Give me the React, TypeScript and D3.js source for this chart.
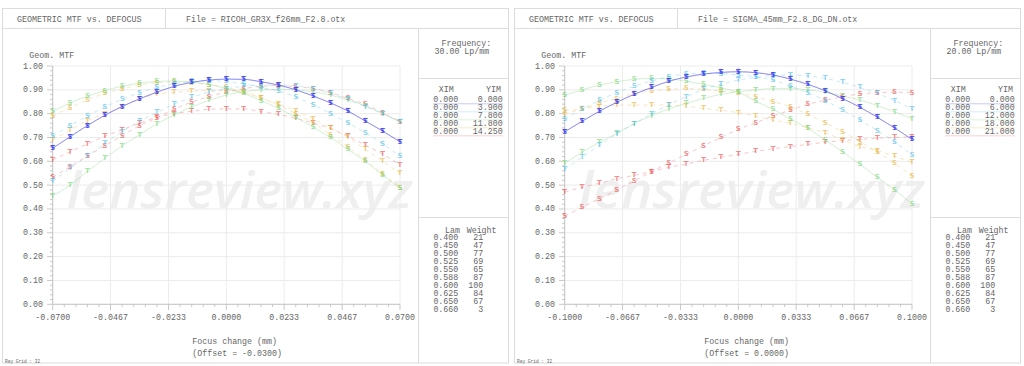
import React from 'react';
import * as d3 from 'd3';

// ---------- data ----------
const leftFocus = [-0.070,-0.063,-0.056,-0.049,-0.042,-0.035,-0.028,-0.021,-0.014,-0.007,0.000,0.007,0.014,0.021,0.028,0.035,0.042,0.049,0.056,0.063,0.070];
const rightFocus = [-0.10,-0.09,-0.08,-0.07,-0.06,-0.05,-0.04,-0.03,-0.02,-0.01,0.00,0.01,0.02,0.03,0.04,0.05,0.06,0.07,0.08,0.09,0.10];

const leftXTicks = [-0.07, -0.0467, -0.0233, 0, 0.0233, 0.0467, 0.07];
const leftXTickLabels = ['-0.0700','-0.0467','-0.0233','0.0000','0.0233','0.0467','0.0700'];
const rightXTicks = [-0.1, -0.0667, -0.0333, 0, 0.0333, 0.0667, 0.1];
const rightXTickLabels = ['-0.1000','-0.0667','-0.0333','0.0000','0.0333','0.0667','0.1000'];
const yTicks = [0,0.1,0.2,0.3,0.4,0.5,0.6,0.7,0.8,0.9,1.0];
const yTickLabels = ['0.00','0.10','0.20','0.30','0.40','0.50','0.60','0.70','0.80','0.90','1.00'];

// Left panel (RICOH GR3X) – field 1..5, tangential / sagittal
const L_F1_T = [0.655,0.703,0.750,0.793,0.830,0.862,0.890,0.915,0.931,0.941,0.945,0.944,0.934,0.920,0.900,0.874,0.845,0.811,0.769,0.727,0.682];
const L_F1_S = [0.655,0.703,0.750,0.793,0.830,0.862,0.890,0.915,0.931,0.941,0.945,0.944,0.934,0.920,0.900,0.874,0.845,0.811,0.769,0.727,0.682];
const L_F2_T = [0.516,0.570,0.622,0.675,0.725,0.768,0.805,0.840,0.868,0.890,0.905,0.915,0.920,0.920,0.918,0.905,0.885,0.860,0.830,0.800,0.765];
const L_F2_S = [0.705,0.750,0.790,0.828,0.860,0.888,0.910,0.925,0.935,0.938,0.935,0.925,0.910,0.895,0.870,0.838,0.800,0.762,0.720,0.673,0.622];
const L_F3_T = [0.455,0.500,0.558,0.613,0.665,0.712,0.757,0.795,0.828,0.856,0.878,0.892,0.900,0.902,0.900,0.892,0.878,0.857,0.833,0.800,0.766];
const L_F3_S = [0.810,0.845,0.873,0.897,0.915,0.928,0.935,0.937,0.932,0.922,0.905,0.885,0.855,0.822,0.785,0.743,0.700,0.650,0.600,0.543,0.487];
const L_F4_T = [0.690,0.732,0.770,0.800,0.830,0.862,0.883,0.890,0.895,0.896,0.897,0.890,0.865,0.840,0.812,0.778,0.740,0.700,0.650,0.601,0.550];
const L_F4_S = [0.790,0.825,0.858,0.885,0.905,0.920,0.930,0.933,0.930,0.922,0.910,0.890,0.865,0.835,0.800,0.760,0.712,0.660,0.606,0.548,0.490];
const L_F5_T = [0.605,0.640,0.673,0.705,0.733,0.760,0.785,0.800,0.810,0.818,0.820,0.820,0.808,0.797,0.780,0.760,0.738,0.705,0.668,0.630,0.585];
const L_F5_S = [0.533,0.578,0.622,0.665,0.708,0.750,0.782,0.820,0.848,0.872,0.890,0.905,0.915,0.918,0.913,0.905,0.888,0.864,0.839,0.804,0.766];

// Right panel (SIGMA 45mm)
const R_F1_T = [0.724,0.768,0.810,0.848,0.881,0.910,0.936,0.954,0.966,0.973,0.976,0.972,0.962,0.945,0.923,0.896,0.863,0.827,0.785,0.740,0.692];
const R_F1_S = [0.724,0.768,0.810,0.848,0.881,0.910,0.936,0.954,0.966,0.973,0.976,0.972,0.962,0.945,0.923,0.896,0.863,0.827,0.785,0.740,0.692];
const R_F2_T = [0.566,0.617,0.667,0.715,0.758,0.799,0.838,0.871,0.902,0.924,0.941,0.952,0.960,0.962,0.958,0.948,0.931,0.910,0.885,0.855,0.820];
const R_F2_S = [0.778,0.818,0.856,0.888,0.915,0.937,0.955,0.966,0.969,0.968,0.962,0.955,0.940,0.916,0.888,0.855,0.815,0.773,0.729,0.680,0.627];
const R_F3_T = [0.592,0.638,0.681,0.717,0.758,0.792,0.820,0.843,0.864,0.881,0.892,0.900,0.905,0.905,0.900,0.890,0.874,0.857,0.834,0.808,0.778];
const R_F3_S = [0.877,0.900,0.920,0.934,0.944,0.948,0.946,0.936,0.923,0.908,0.890,0.852,0.818,0.777,0.738,0.690,0.640,0.587,0.533,0.480,0.421];
const R_F4_T = [0.795,0.820,0.830,0.835,0.836,0.836,0.836,0.832,0.822,0.814,0.804,0.790,0.773,0.760,0.740,0.720,0.690,0.662,0.645,0.621,0.596];
const R_F4_S = [0.814,0.820,0.846,0.863,0.884,0.895,0.902,0.906,0.902,0.895,0.887,0.871,0.850,0.829,0.797,0.762,0.724,0.683,0.639,0.592,0.538];
const R_F5_T = [0.471,0.491,0.508,0.527,0.541,0.557,0.575,0.589,0.604,0.617,0.629,0.642,0.653,0.662,0.671,0.680,0.687,0.692,0.697,0.700,0.703];
const R_F5_S = [0.370,0.407,0.443,0.480,0.517,0.557,0.593,0.629,0.666,0.700,0.734,0.762,0.790,0.815,0.839,0.856,0.871,0.883,0.888,0.890,0.888];

const fieldColors = ['#3b3bea', '#5cc3ee', '#7fd87f', '#eab84a', '#ee5c5c'];
const fieldDashed = [false, true, false, true, true];

const leftXim = ['0.000','0.000','0.000','0.000','0.000'];
const leftYim = ['0.000','3.900','7.800','11.800','14.250'];
const rightXim = ['0.000','0.000','0.000','0.000','0.000'];
const rightYim = ['0.000','6.000','12.000','18.000','21.000'];
const lambdas = ['0.400','0.450','0.500','0.525','0.550','0.588','0.600','0.625','0.650','0.660'];
const weights = ['21','47','77','69','65','87','100','84','67','3'];

// ---------- drawing ----------
const FONT = "'Liberation Mono', 'DejaVu Sans Mono', monospace";
const TXT = '#666';
const FS = 8.3;

type Series = { field: number; kind: 'T' | 'S'; values: number[] };

type PanelProps = {
  ox: number;
  file: string;
  freq: string;
  offset: string;
  focus: number[];
  xDomain: [number, number];
  xTicks: number[];
  xTickLabels: string[];
  xim: string[];
  yim: string[];
  series: Series[];
};

function Panel(p: PanelProps) {
  const x = d3.scaleLinear().domain(p.xDomain).range([52.7, 400]);
  const y = d3.scaleLinear().domain([0, 1]).range([304.3, 66]);
  const line = d3.line<number>().x((_, i) => x(p.focus[i])).y((v) => y(v)).curve(d3.curveMonotoneX);

  const xMinor: number[] = [];
  for (let i = 0; i < p.xTicks.length - 1; i++) {
    const a = p.xTicks[i], b = p.xTicks[i + 1];
    for (let k = 1; k < 5; k++) xMinor.push(a + ((b - a) * k) / 5);
  }
  const yMinor: number[] = [];
  for (let i = 0; i < yTicks.length - 1; i++) {
    for (let k = 1; k < 5; k++) yMinor.push(yTicks[i] + (0.1 * k) / 5);
  }

  const border = '#dcdcdc';
  return (
    <g transform={`translate(${p.ox},0)`}>
      <rect x={2.5} y={8.5} width={506} height={354.5} fill="#fff" stroke={border} />
      <line x1={2.5} x2={508.5} y1={28.5} y2={28.5} stroke={border} />
      <line x1={165.5} x2={165.5} y1={8.5} y2={28.5} stroke={border} />
      <line x1={418.5} x2={418.5} y1={28.5} y2={363} stroke={border} />
      <line x1={418.5} x2={508.5} y1={78.5} y2={78.5} stroke={border} />
      <line x1={418.5} x2={508.5} y1={217.5} y2={217.5} stroke={border} />

      <g fontFamily={FONT} fontSize={FS} fill={TXT}>
        <text x={17} y={19.5} dominantBaseline="central">GEOMETRIC MTF vs. DEFOCUS</text>
        <text x={186} y={19.5} dominantBaseline="central">{p.file}</text>
        <text x={29.3} y={55.7} dominantBaseline="central">Geom. MTF</text>
        <text x={192.3} y={341.7} dominantBaseline="central">Focus change (mm)</text>
        <text x={192.3} y={353.3} dominantBaseline="central">{p.offset}</text>
        <text x={441.5} y={43.3} dominantBaseline="central">Frequency:</text>
        <text x={434.5} y={51.7} dominantBaseline="central">{p.freq}</text>
        <text x={438.7} y={89.3} dominantBaseline="central">XIM</text>
        <text x={486} y={89.3} dominantBaseline="central">YIM</text>
        {p.xim.map((v, i) => (
          <g key={i}>
            <line x1={433} x2={503} y1={103.8 + 8 * i} y2={103.8 + 8 * i} stroke={fieldColors[i]} strokeOpacity={0.35} strokeWidth={0.8} />
            <text x={433.3} y={99.3 + 8 * i} dominantBaseline="central">{v}</text>
            <text x={502.7} y={99.3 + 8 * i} textAnchor="end" dominantBaseline="central">{p.yim[i]}</text>
          </g>
        ))}
        <text x={445} y={230} dominantBaseline="central">Lam</text>
        <text x={466.7} y={230} dominantBaseline="central">Weight</text>
        {lambdas.map((l, i) => (
          <g key={i}>
            <text x={458.3} y={237.3 + 8 * i} textAnchor="end" dominantBaseline="central">{l}</text>
            <text x={483.3} y={237.3 + 8 * i} textAnchor="end" dominantBaseline="central">{weights[i]}</text>
          </g>
        ))}
        <text x={5} y={361} fontSize={4.5} dominantBaseline="central">Ray Grid : 32</text>
      </g>

      {/* watermark */}
      <text x={66.7} y={208} textLength={346} lengthAdjust="spacingAndGlyphs" fontFamily="'Open Sans', 'DejaVu Sans', sans-serif" fontStyle="italic" fontWeight={600} fontSize={50} fill="#efefef">lensreview.xyz</text>

      {/* grid */}
      <g stroke="#ececec" strokeWidth={1}>
        {yTicks.map((t) => (
          <line key={'gy' + t} x1={52.7} x2={400} y1={y(t)} y2={y(t)} />
        ))}
        {p.xTicks.map((t) => (
          <line key={'gx' + t} x1={x(t)} x2={x(t)} y1={66} y2={304.3} />
        ))}
      </g>

      {/* axes */}
      <g stroke="#bbb" strokeWidth={0.8}>
        <line x1={52.7} x2={52.7} y1={66} y2={304.3} />
        <line x1={52.7} x2={400} y1={304.3} y2={304.3} />
        {yTicks.map((t) => (
          <line key={'ty' + t} x1={47} x2={52.7} y1={y(t)} y2={y(t)} />
        ))}
        {yMinor.map((t, i) => (
          <line key={'tym' + i} x1={50} x2={52.7} y1={y(t)} y2={y(t)} />
        ))}
        {p.xTicks.map((t) => (
          <line key={'tx' + t} x1={x(t)} x2={x(t)} y1={304.3} y2={310} />
        ))}
        {xMinor.map((t, i) => (
          <line key={'txm' + i} x1={x(t)} x2={x(t)} y1={304.3} y2={307} />
        ))}
      </g>
      <g fontFamily={FONT} fontSize={FS} fill={TXT}>
        {yTicks.map((t, i) => (
          <text key={'ly' + t} x={43} y={y(t)} textAnchor="end" dominantBaseline="central">{yTickLabels[i]}</text>
        ))}
        {p.xTicks.map((t, i) => (
          <text key={'lx' + t} x={x(t)} y={317.5} textAnchor="middle" dominantBaseline="central">{p.xTickLabels[i]}</text>
        ))}
      </g>

      {/* lines */}
      {p.series.map((s, k) => (
        <path key={'l' + k} d={line(s.values) || ''} fill="none" stroke={fieldColors[s.field]} strokeOpacity={0.35} strokeWidth={1}
          strokeDasharray={fieldDashed[s.field] ? '4,4' : undefined} />
      ))}
      {/* markers */}
      {p.series.map((s, k) => (
        <g key={'m' + k} fill={fieldColors[s.field]} fillOpacity={0.7} fontFamily="'DejaVu Sans', sans-serif" fontWeight="bold" fontSize={7} textAnchor="middle">
          {s.values.map((v, i) => (
            <text key={i} x={x(p.focus[i])} y={y(v)} dominantBaseline="central">{s.kind}</text>
          ))}
        </g>
      ))}
    </g>
  );
}

const leftSeries: Series[] = [
  { field: 4, kind: 'T', values: L_F5_T }, { field: 4, kind: 'S', values: L_F5_S },
  { field: 3, kind: 'T', values: L_F4_T }, { field: 3, kind: 'S', values: L_F4_S },
  { field: 2, kind: 'T', values: L_F3_T }, { field: 2, kind: 'S', values: L_F3_S },
  { field: 1, kind: 'T', values: L_F2_T }, { field: 1, kind: 'S', values: L_F2_S },
  { field: 0, kind: 'T', values: L_F1_T }, { field: 0, kind: 'S', values: L_F1_S },
];
const rightSeries: Series[] = [
  { field: 4, kind: 'T', values: R_F5_T }, { field: 4, kind: 'S', values: R_F5_S },
  { field: 3, kind: 'T', values: R_F4_T }, { field: 3, kind: 'S', values: R_F4_S },
  { field: 2, kind: 'T', values: R_F3_T }, { field: 2, kind: 'S', values: R_F3_S },
  { field: 1, kind: 'T', values: R_F2_T }, { field: 1, kind: 'S', values: R_F2_S },
  { field: 0, kind: 'T', values: R_F1_T }, { field: 0, kind: 'S', values: R_F1_S },
];

export default function App() {
  return (
    <svg width={1024} height={366} style={{ position: 'absolute', left: 0, top: 0, background: '#fff' }}>
      <Panel ox={0} file="File = RICOH_GR3X_f26mm_F2.8.otx" freq="30.00  Lp/mm" offset="(Offset = -0.0300)"
        focus={leftFocus} xDomain={[-0.07, 0.07]} xTicks={leftXTicks} xTickLabels={leftXTickLabels}
        xim={leftXim} yim={leftYim} series={leftSeries} />
      <Panel ox={512} file="File = SIGMA_45mm_F2.8_DG_DN.otx" freq="20.00  Lp/mm" offset="(Offset = 0.0000)"
        focus={rightFocus} xDomain={[-0.1, 0.1]} xTicks={rightXTicks} xTickLabels={rightXTickLabels}
        xim={rightXim} yim={rightYim} series={rightSeries} />
    </svg>
  );
}
